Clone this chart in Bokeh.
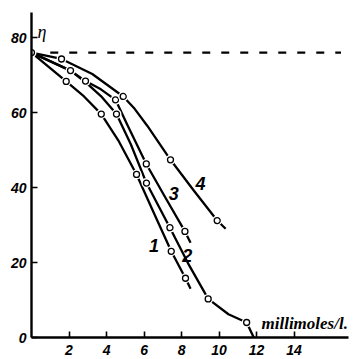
from bokeh.plotting import figure
from bokeh.models import Range1d, FixedTicker, Label
from bokeh.core.properties import value
from bokeh.embed import file_html
from bokeh.resources import INLINE

# --- data ---
# measured points (open circles)
c1_x = [1.85, 3.72, 5.6, 7.45, 8.21]
c1_y = [68.3, 59.6, 43.5, 23.0, 15.8]
c2_x = [2.08, 4.53, 6.13, 7.38, 9.42, 11.47]
c2_y = [71.2, 59.6, 41.2, 29.3, 10.3, 4.0]
c3_x = [2.88, 4.48, 6.12, 8.18]
c3_y = [68.4, 63.4, 46.3, 28.3]
c4_x = [1.6, 4.89, 7.41, 9.9]
c4_y = [74.3, 64.3, 47.4, 31.2]
origin_x = [0.0]
origin_y = [76.0]

# drawn curves
c1_line_x = [0.0, 1.85, 2.8, 3.72, 4.66, 5.6, 6.5, 7.45, 8.21, 8.48]
c1_line_y = [76.0, 68.3, 64.3, 59.6, 52.3, 43.5, 33.5, 23.0, 15.8, 13.0]
c2_line_x = [0.0, 2.08, 2.88, 3.7, 4.53, 5.3, 6.13, 7.38, 8.4, 9.42, 10.5, 11.47, 11.85]
c2_line_y = [76.0, 71.2, 68.1, 64.4, 59.6, 51.5, 41.2, 29.3, 19.3, 10.3, 6.2, 4.0, 0.0]
c3_line_x = [0.0, 2.08, 2.88, 3.7, 4.48, 5.1, 6.12, 7.15, 8.18, 8.48]
c3_line_y = [76.0, 71.2, 68.4, 66.2, 63.4, 56.8, 46.3, 37.2, 28.3, 25.3]
c4_line_x = [0.0, 1.6, 3.24, 4.89, 5.5, 6.17, 7.41, 8.65, 9.9, 10.35]
c4_line_y = [76.0, 74.3, 70.3, 64.3, 61.0, 56.5, 47.4, 39.2, 31.2, 29.0]

plateau_y = 76.0

curve_names = ["1", "2", "3", "4"]
curve_label_x = [6.53, 8.3, 7.59, 9.01]
curve_label_y = [24.5, 22.0, 38.3, 41.0]

x_ticks = [2, 4, 6, 8, 10, 12, 14]
y_ticks = [0, 20, 40, 60, 80]

p = figure(width=353, height=359, output_backend="svg", toolbar_location=None,
           x_range=Range1d(0, 16.9), y_range=Range1d(0, 86.7),
           min_border_left=31, min_border_right=5, min_border_top=12,
           min_border_bottom=22)
p.outline_line_color = None
p.xgrid.visible = False
p.ygrid.visible = False
p.background_fill_color = "white"
p.border_fill_color = "white"

for ax in (p.xaxis[0], p.yaxis[0]):
    ax.axis_line_width = 2.4
    ax.axis_line_color = "black"
    ax.major_tick_in = 6
    ax.major_tick_out = 0
    ax.major_tick_line_width = 1.6
    ax.minor_tick_line_color = None
    ax.major_label_text_font = "Liberation Sans"
    ax.major_label_text_font_style = "bold italic"
    ax.major_label_text_font_size = "14px"
    ax.major_label_text_color = "black"

p.xaxis[0].ticker = FixedTicker(ticks=x_ticks)
p.yaxis[0].ticker = FixedTicker(ticks=y_ticks)
p.xaxis[0].major_label_standoff = 7
p.yaxis[0].major_label_standoff = 5

# dashed plateau line
p.line([1.0, 16.5], [plateau_y, plateau_y], line_color="black", line_width=2.2,
       line_dash="8 11")

for lx, ly in [(c1_line_x, c1_line_y), (c2_line_x, c2_line_y),
               (c3_line_x, c3_line_y), (c4_line_x, c4_line_y)]:
    p.line(lx, ly, line_color="black", line_width=2.3, line_join="round")

for mx, my in [(c1_x, c1_y), (c2_x, c2_y), (c3_x, c3_y), (c4_x, c4_y),
               (origin_x, origin_y)]:
    p.scatter(mx, my, size=10, fill_color="white", line_color=None)
    p.scatter(mx, my, size=6, fill_color="white", line_color="black", line_width=1.3)

p.text(curve_label_x, curve_label_y, text=curve_names, text_align="center",
       text_baseline="middle", text_font=value("Liberation Sans"),
       text_font_style="bold italic", text_font_size="18px", text_color="black")

p.add_layout(Label(x=230, y=5, x_units="screen", y_units="screen",
                   text="millimoles/l.", text_font="Liberation Serif",
                   text_font_style="bold italic", text_font_size="17px",
                   text_color="black"))
p.add_layout(Label(x=6, y=86.7, x_units="screen", y_units="data",
                   y_offset=-29, text="η", text_font="Liberation Serif",
                   text_font_style="italic", text_font_size="18px",
                   text_color="black"))

open("out.html", "w").write(file_html(p, INLINE))
